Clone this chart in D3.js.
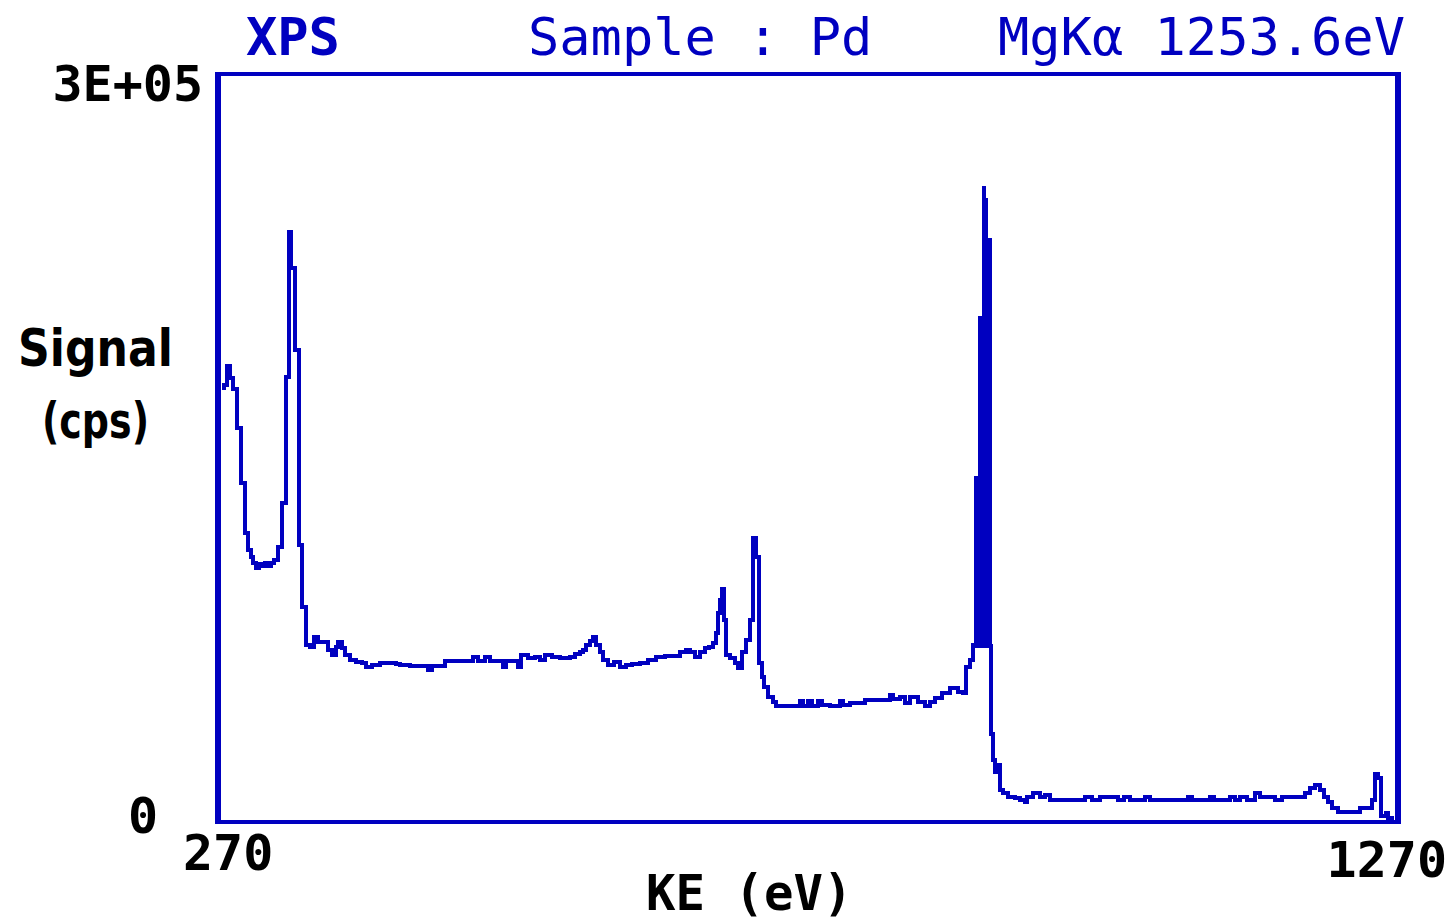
<!DOCTYPE html>
<html>
<head>
<meta charset="utf-8">
<script src="https://cdn.jsdelivr.net/npm/d3@7/dist/d3.min.js"></script>
<style>
  html, body { margin: 0; padding: 0; background: #ffffff; }
  svg { display: block; }
</style>
</head>
<body>
<svg id="chart" width="1452" height="922"></svg>
<script>
// XPS survey spectrum of Pd (Mg Kα excitation), kinetic energy vs count rate
const kineticEnergy = [
  270.9, 272.6, 275.1, 277.7, 280.2, 283.6, 287.0, 290.4, 293.0, 295.6,
  297.3, 299.8, 302.4, 304.9, 307.5, 310.0, 312.6, 315.1, 318.6, 322.0,
  325.4, 327.9, 329.6, 333.0, 336.4, 339.0, 342.4, 345.8, 349.2, 352.6,
  357.7, 361.1, 364.5, 368.0, 369.7, 373.1, 375.6, 379.9, 385.0, 390.1,
  393.5, 398.6, 405.4, 414.0, 419.1, 422.5, 431.0, 439.5, 446.3, 449.7,
  456.5, 460.8, 469.3, 477.8, 484.7, 488.9, 494.9, 499.1, 507.7, 510.2,
  512.8, 520.4, 523.0, 525.5, 531.5, 537.5, 541.7, 546.0, 551.9, 558.8,
  567.3, 571.5, 575.8, 578.3, 580.9, 584.3, 586.9, 589.4, 592.8, 595.4,
  599.6, 604.8, 609.9, 615.0, 620.1, 626.9, 633.7, 640.5, 648.2, 654.2,
  661.0, 666.1, 669.5, 673.7, 678.0, 682.3, 685.7, 689.1, 691.6, 693.3,
  695.0, 696.8, 698.5, 700.2, 703.6, 707.8, 710.4, 713.8, 717.2, 720.6,
  723.2, 725.7, 728.3, 730.8, 732.5, 735.9, 740.2, 742.7, 750.4, 758.9,
  763.2, 765.7, 770.0, 773.4, 778.5, 781.9, 788.7, 797.3, 799.8, 805.8,
  814.3, 818.6, 827.1, 835.6, 839.9, 842.4, 848.4, 852.6, 856.9, 863.7,
  869.7, 873.9, 878.2, 884.1, 891.0, 897.8, 902.0, 904.6, 908.0, 910.5,
  912.7, 913.5, 914.4, 915.2, 916.1, 916.9, 917.8, 918.6, 919.5, 920.3,
  921.2, 922.0, 922.9, 923.7, 924.6, 925.4,
  925.9, 927.6, 929.3, 931.8, 933.5, 936.1, 940.4, 946.3, 950.6, 954.8,
  956.5, 961.7, 967.6, 971.9, 976.1, 988.9, 1001.7, 1006.0, 1011.9, 1018.7,
  1029.0, 1034.1, 1039.2, 1044.3, 1057.1, 1061.3, 1078.4, 1093.7, 1097.1, 1112.4,
  1115.8, 1129.5, 1133.7, 1138.0, 1143.9, 1150.8, 1155.0, 1163.5, 1167.8, 1173.8,
  1184.8, 1189.1, 1193.3, 1197.6, 1201.9, 1206.1, 1209.5, 1212.9, 1216.3, 1221.5,
  1231.7, 1236.8, 1240.2, 1247.0, 1250.4, 1253.0, 1255.5, 1258.1, 1262.3, 1264.0,
  1269.2
];

const signalCps = [
  174200, 175400, 183100, 178200, 173800, 158100, 135900, 115700, 108900, 106000,
  103600, 101600, 103200, 102400, 103600, 102400, 103600, 104800, 110100, 127800,
  178600, 237100, 222600, 189500, 110900, 85900, 70600, 69800, 73800, 71800,
  71800, 68500, 66500, 69800, 71800, 69400, 66500, 64500, 63700, 63300,
  61700, 62500, 63300, 63300, 62900, 62500, 62100, 62100, 60500, 62100,
  62100, 64100, 64100, 64100, 65700, 64100, 65700, 64100, 64100, 61700,
  64100, 64100, 61700, 66500, 65300, 65700, 64500, 66500, 65700, 65300,
  65700, 66900, 67700, 68500, 70600, 72200, 73800, 70600, 67700, 64500,
  62500, 63700, 61700, 62500, 62900, 63300, 64500, 65700, 66100, 66100,
  67700, 68500, 67700, 65700, 67700, 69400, 69800, 71400, 75400, 83500,
  88700, 93100, 80600, 66500, 65300, 63300, 61300, 67700, 72600, 80600,
  113700, 106000, 63300, 57700, 53600, 49600, 47600, 46000, 46000, 46000,
  48000, 46000, 48000, 46000, 48000, 46400, 46000, 48000, 46400, 47200,
  47200, 48400, 48400, 48400, 50400, 48800, 49600, 47200, 49600, 47600,
  46000, 47600, 49200, 51200, 53200, 51600, 51200, 61700, 64500, 70600,
  137900, 70200, 137900, 70200, 202400, 70200, 202400, 70200, 254800, 70200,
  250000, 70200, 233900, 70200, 233900, 70200,
  34700, 24200, 19400, 22200, 12100, 10900, 9300, 8900, 8100, 7300,
  9300, 10900, 9300, 10100, 8100, 8100, 8100, 9300, 8100, 9300,
  9300, 8100, 9300, 8100, 9300, 8100, 8100, 9300, 8100, 9300,
  8100, 9300, 8100, 9300, 8100, 10900, 9300, 9300, 8100, 9300,
  9300, 9300, 10900, 12900, 14100, 12100, 9300, 7300, 4800, 3200,
  3200, 3200, 4800, 4800, 8100, 18500, 16900, 1600, 2800, 800,
  800
];

const xDomain = [270, 1270];
const yDomain = [0, 300000];
const xTickValues = [270, 1270];
const xTickLabels = ["270", "1270"];
const yTickValues = [0, 300000];
const yTickLabels = ["0", "3E+05"];

const headerTexts = ["XPS", "Sample : Pd", "MgKα 1253.6eV"];
const yAxisTitle = ["Signal", "(cps)"];
const xAxisTitle = "KE (eV)";

const BLUE = "#0000c0";
const MONO = "'DejaVu Sans Mono', monospace";

const svg = d3.select("#chart");

// plot interior
const plot = { left: 221, right: 1395, top: 76, bottom: 820 };

const x = d3.scaleLinear().domain(xDomain).range([plot.left, plot.right]);
const y = d3.scaleLinear().domain(yDomain).range([plot.bottom, plot.top]);

const points = kineticEnergy.map((e, i) => [e, signalCps[i]]);

// spectrum trace, stepped like the instrument's raster display
const line = d3.line()
  .x(d => x(d[0]))
  .y(d => y(d[1]))
  .curve(d3.curveStepAfter);

svg.append("path")
  .datum(points)
  .attr("d", line)
  .attr("fill", "none")
  .attr("stroke", BLUE)
  .attr("stroke-width", 3.6)
  .attr("stroke-linejoin", "miter")
  .attr("shape-rendering", "crispEdges");

// frame around the plot
const frame = svg.append("g").attr("stroke", BLUE).attr("shape-rendering", "crispEdges");
frame.append("line").attr("x1", 215).attr("x2", 1401).attr("y1", plot.top - 2).attr("y2", plot.top - 2).attr("stroke-width", 4);
frame.append("line").attr("x1", 215).attr("x2", 1401).attr("y1", plot.bottom + 2).attr("y2", plot.bottom + 2).attr("stroke-width", 4);
frame.append("line").attr("x1", plot.left - 3).attr("x2", plot.left - 3).attr("y1", 72).attr("y2", 824).attr("stroke-width", 6);
frame.append("line").attr("x1", plot.right + 3).attr("x2", plot.right + 3).attr("y1", 72).attr("y2", 824).attr("stroke-width", 6);

// header line
const headerX = [246, 528, 998];
headerTexts.forEach((t, i) => {
  svg.append("text")
    .attr("x", headerX[i])
    .attr("y", 55)
    .attr("font-family", MONO)
    .attr("font-size", 52)
    .attr("font-weight", i === 0 ? "bold" : "normal")
    .attr("fill", BLUE)
    .attr("xml:space", "preserve")
    .text(t);
});

// y tick labels
const yLabelOffset = [13, 25];
yTickValues.forEach((v, i) => {
  svg.append("text")
    .attr("x", i === 0 ? 158 : 203)
    .attr("y", y(v) + yLabelOffset[i])
    .attr("text-anchor", "end")
    .attr("font-family", MONO)
    .attr("font-size", 50)
    .attr("font-weight", "bold")
    .attr("fill", "#000")
    .text(yTickLabels[i]);
});

// x tick labels
const xLabelPos = [{ dx: -38, y: 870, anchor: "start" }, { dx: 52, y: 877, anchor: "end" }];
xTickValues.forEach((v, i) => {
  svg.append("text")
    .attr("x", x(v) + xLabelPos[i].dx)
    .attr("y", xLabelPos[i].y)
    .attr("text-anchor", xLabelPos[i].anchor)
    .attr("font-family", MONO)
    .attr("font-size", 50)
    .attr("font-weight", "bold")
    .attr("fill", "#000")
    .text(xTickLabels[i]);
});

// axis titles
svg.append("text")
  .attr("x", 18).attr("y", 366)
  .attr("font-family", "'DejaVu Sans', sans-serif")
  .attr("font-size", 51).attr("font-weight", "bold")
  .attr("textLength", 155).attr("lengthAdjust", "spacingAndGlyphs")
  .attr("fill", "#000")
  .text(yAxisTitle[0]);

svg.append("text")
  .attr("x", 42).attr("y", 438)
  .attr("font-family", "'DejaVu Sans', sans-serif")
  .attr("font-size", 50).attr("font-weight", "bold")
  .attr("textLength", 107).attr("lengthAdjust", "spacingAndGlyphs")
  .attr("fill", "#000")
  .text(yAxisTitle[1]);

svg.append("text")
  .attr("x", 646).attr("y", 910)
  .attr("font-family", MONO)
  .attr("font-size", 49).attr("font-weight", "bold")
  .attr("fill", "#000")
  .attr("xml:space", "preserve")
  .text(xAxisTitle);
</script>
</body>
</html>
